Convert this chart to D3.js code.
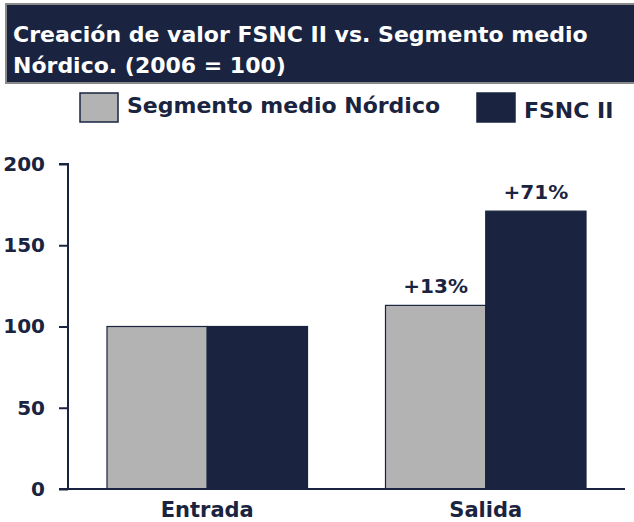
<!DOCTYPE html>
<html lang="es">
<head>
  <meta charset="UTF-8">
  <title>Creación de valor FSNC II</title>
  <script src="https://cdn.jsdelivr.net/npm/d3@7.9.0/dist/d3.min.js"></script>
  <style>
    html, body { margin: 0; padding: 0; background: #fff; }
    svg { display: block; font-family: "DejaVu Sans", sans-serif; }
  </style>
</head>
<body>
  <svg id="chart" width="634" height="522"></svg>
  <script>
    // data
    const categories = ["Entrada", "Salida"];
    const seriesNames = ["Segmento medio Nórdico", "FSNC II"];
    const nordicValues = [100, 113];
    const fsncValues = [100, 171];
    const growthLabels = [null, ["+13%", "+71%"]];
    const yTicks = [0, 50, 100, 150, 200];
    const titleLines = ["Creación de valor FSNC II vs. Segmento medio", "Nórdico. (2006 = 100)"];

    const navy = "#1a2440";
    const grey = "#b3b3b3";
    const colors = [grey, navy];

    const svg = d3.select("#chart");

    // title box
    svg.append("rect")
      .attr("x", 6).attr("y", 4)
      .attr("width", 640).attr("height", 79)
      .attr("fill", navy)
      .attr("stroke", "#8a8a8a")
      .attr("stroke-width", 2);

    svg.append("g")
      .selectAll("text")
      .data(titleLines)
      .join("text")
      .attr("x", 13)
      .attr("y", (d, i) => 42 + i * 31)
      .attr("fill", "#ffffff")
      .attr("font-size", 22)
      .attr("font-weight", "bold")
      .text(d => d);

    // legend
    const legend = svg.append("g");
    const legendX = [80, 477];
    const legendTextY = [113, 118];
    seriesNames.forEach((name, i) => {
      legend.append("rect")
        .attr("x", legendX[i]).attr("y", 93)
        .attr("width", 38).attr("height", 29)
        .attr("fill", colors[i])
        .attr("stroke", navy)
        .attr("stroke-width", 1.5);
      legend.append("text")
        .attr("x", legendX[i] + 47)
        .attr("y", legendTextY[i])
        .attr("fill", navy)
        .attr("font-size", 22)
        .attr("font-weight", "bold")
        .text(name);
    });

    // scales
    const y = d3.scaleLinear().domain([0, 200]).range([489, 164]);
    const x0 = d3.scaleBand().domain(categories).range([68, 625])
      .paddingInner(0.28).paddingOuter(0.14);
    const x1 = d3.scaleBand().domain(seriesNames).range([0, x0.bandwidth()]);

    // y axis
    const yAxis = svg.append("g")
      .attr("transform", "translate(68,0)")
      .call(d3.axisLeft(y).tickValues(yTicks).tickSize(9).tickPadding(14));
    yAxis.select(".domain").attr("stroke", navy).attr("stroke-width", 2)
      .attr("d", `M-9,${y(200)}H0V${y(0)}`);
    yAxis.selectAll(".tick line").attr("stroke", navy).attr("stroke-width", 2);
    yAxis.selectAll(".tick text")
      .attr("fill", navy)
      .attr("font-size", 20)
      .attr("font-weight", "bold")
      .attr("font-family", "DejaVu Sans, sans-serif");

    // bars
    const rows = categories.map((c, i) => ({
      cat: c,
      values: [nordicValues[i], fsncValues[i]],
      labels: growthLabels[i]
    }));

    const groups = svg.append("g")
      .selectAll("g")
      .data(rows)
      .join("g")
      .attr("transform", d => `translate(${x0(d.cat)},0)`);

    groups.selectAll("rect")
      .data(d => d.values.map((v, j) => ({ name: seriesNames[j], value: v })))
      .join("rect")
      .attr("x", d => x1(d.name))
      .attr("y", d => y(d.value))
      .attr("width", x1.bandwidth())
      .attr("height", d => y(0) - y(d.value))
      .attr("fill", (d, j) => colors[j])
      .attr("stroke", navy)
      .attr("stroke-width", 1.2);

    groups.filter(d => d.labels)
      .selectAll("text")
      .data(d => d.values.map((v, j) => ({ name: seriesNames[j], value: v, label: d.labels[j] })))
      .join("text")
      .attr("x", d => x1(d.name) + x1.bandwidth() / 2)
      .attr("y", d => y(d.value) - 12)
      .attr("text-anchor", "middle")
      .attr("fill", navy)
      .attr("font-size", 20)
      .attr("font-weight", "bold")
      .text(d => d.label);

    // x axis
    const xAxis = svg.append("g")
      .attr("transform", `translate(0,${y(0)})`)
      .call(d3.axisBottom(x0).tickSize(0).tickPadding(13));
    xAxis.select(".domain").attr("stroke", navy).attr("stroke-width", 2)
      .attr("d", `M59,0H625`);
    xAxis.selectAll(".tick text")
      .attr("fill", navy)
      .attr("font-size", 21)
      .attr("font-weight", "bold")
      .attr("font-family", "DejaVu Sans, sans-serif");
  </script>
</body>
</html>
